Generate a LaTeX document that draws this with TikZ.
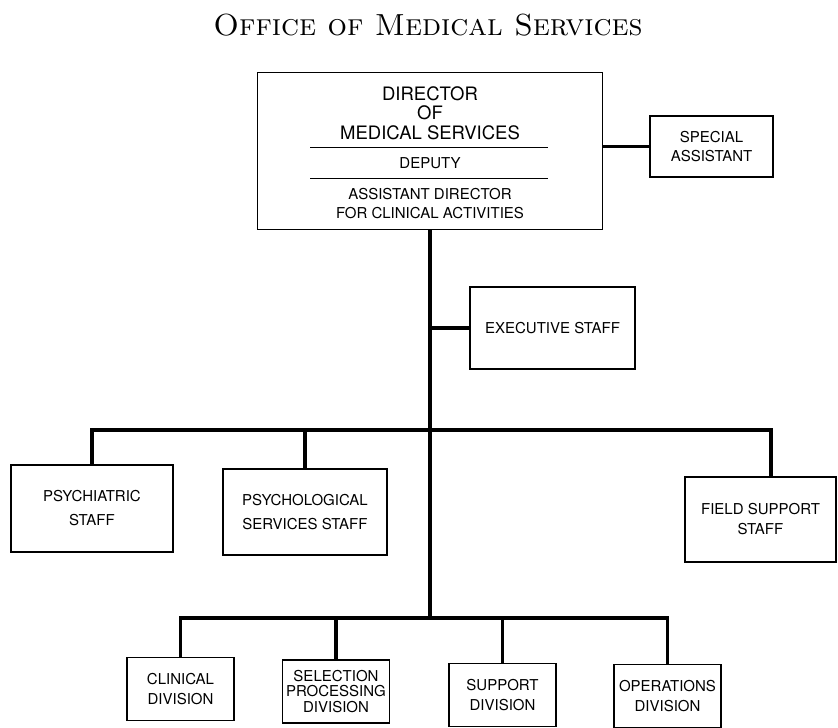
\documentclass[tikz,border=0pt]{standalone}
\usepackage{fontspec}
\newfontfamily\chartfont{TeX Gyre Heros}
\usetikzlibrary{positioning}

\begin{document}
\begin{tikzpicture}[x=1pt,y=-1pt]
\tikzstyle{unit}=[rectangle,draw,line width=1.3pt,align=center,inner sep=0pt,
font=\chartfont\fontsize{15}{20}\selectfont]
\tikzstyle{division}=[unit,minimum width=107,minimum height=63]
\tikzstyle{caption}=[align=center,inner sep=0pt,font=\chartfont\fontsize{15}{19}\selectfont]
\tikzstyle{link}=[line width=3.4pt]

\useasboundingbox (0,0) rectangle (838,728);

\node (title) at (428,25) {\fontsize{30.5}{32}\selectfont\scshape Office of Medical Services};

\node[unit,minimum width=345,minimum height=157] (director) at (430,151) {};
\node[caption,font=\chartfont\fontsize{18.5}{19.5}\selectfont] (dirname) at (430,113) {DIRECTOR\\OF\\MEDICAL SERVICES};
\node[caption] (deputy) at (430,163) {DEPUTY};
\node[caption] (assistdir) at (430,204) {ASSISTANT DIRECTOR\\FOR CLINICAL ACTIVITIES};
\draw[line width=0.9pt] (310,147) -- (548,147);
\draw[line width=0.9pt] (310,178) -- (548,178);

\node[unit,minimum width=123,minimum height=61] (special) at (711.5,146.5) {SPECIAL\\[-1pt]ASSISTANT};
\node[unit,minimum width=165,minimum height=82] (exec) at (552.5,328) {EXECUTIVE STAFF};

\node[unit,minimum width=162,minimum height=87] (psychiatric) at (92,508.5) {PSYCHIATRIC\\[4pt]STAFF};
\node[unit,minimum width=164,minimum height=86] (psychological) at (305,512) {PSYCHOLOGICAL\\[4pt]SERVICES STAFF};
\node[unit,minimum width=151,minimum height=85] (fieldsup) at (760.5,519.5) {FIELD SUPPORT\\STAFF};

\node[division] (clinical) at (180.5,689) {CLINICAL\\DIVISION};
\node[division,font=\chartfont\fontsize{15}{15.5}\selectfont] (selection) at (336,691.5) {SELECTION\\PROCESSING\\DIVISION};
\node[division] (support) at (502.5,695) {SUPPORT\\DIVISION};
\node[division] (operations) at (667.5,696) {OPERATIONS\\DIVISION};

\coordinate (upbar) at (771,430);
\coordinate (lowbar) at (430,618);

\draw[link] (director.east |- special) -- (special.west);
\draw[link] (director.south) -- (lowbar);
\draw[link] (exec.west) -- (exec.west -| director.south);
\draw[link] (psychiatric.north) |- (upbar) -- (upbar |- fieldsup.north);
\draw[link] (psychological.north) -- (psychological.north |- upbar);
\draw[link] (clinical.north) |- (lowbar) -| (operations.north);
\draw[link] (selection.north) -- (selection.north |- lowbar);
\draw[link] (support.north) -- (support.north |- lowbar);

\end{tikzpicture}
\end{document}
